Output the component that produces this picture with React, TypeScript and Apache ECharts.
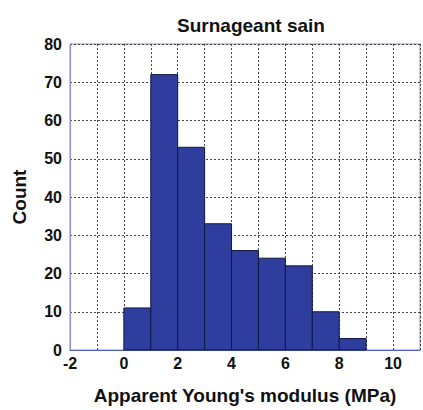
import React, { useEffect, useRef } from "react";
import * as echarts from "echarts";

const binStarts = [0, 1, 2, 3, 4, 5, 6, 7, 8];
const binWidth = 1;
const counts = [11, 72, 53, 33, 26, 24, 22, 10, 3];
const yTicks = [0, 10, 20, 30, 40, 50, 60, 70, 80];
const xLabels = [-2, 0, 2, 4, 6, 8, 10];

export default function App() {
  const ref = useRef<HTMLDivElement>(null);
  useEffect(() => {
    const chart = echarts.init(ref.current!, null, { renderer: "svg" });
    const font = "'Liberation Sans', Arial, sans-serif";
    chart.setOption({
      animation: false,
      backgroundColor: "#ffffff",
      title: {
        text: "Surnageant sain",
        left: 246,
        top: 11,
        textAlign: "center",
        textStyle: { fontFamily: font, fontWeight: "bold", fontSize: 19, color: "#111" },
      },
      grid: {
        left: 70,
        right: 2,
        top: 44,
        bottom: 59,
        show: true,
        borderColor: "#8c8cd0",
        borderWidth: 1,
        backgroundColor: "#fff",
      },
      xAxis: {
        type: "value",
        min: -2,
        max: 11,
        interval: 1,
        name: "Apparent Young's modulus (MPa)",
        nameLocation: "middle",
        nameGap: 36,
        nameTextStyle: { fontFamily: font, fontWeight: "bold", fontSize: 19, color: "#111" },
        axisLine: { show: true, onZero: false, lineStyle: { color: "#5060c0", width: 1 } },
        axisTick: { show: false },
        axisLabel: {
          fontFamily: font,
          fontWeight: "bold",
          fontSize: 16,
          color: "#111",
          margin: 5,
          formatter: (v: number) => (xLabels.indexOf(v) >= 0 ? String(v) : ""),
        },
        splitLine: { show: true, lineStyle: { color: "#444", type: [2, 2], width: 1 } },
      },
      yAxis: {
        type: "value",
        min: 0,
        max: 80,
        interval: 10,
        name: "Count",
        nameLocation: "middle",
        nameGap: 41,
        nameTextStyle: { fontFamily: font, fontWeight: "bold", fontSize: 19, color: "#111" },
        axisLine: { show: true, onZero: false, lineStyle: { color: "#8c8cd0" } },
        axisTick: { show: false },
        axisLabel: {
          fontFamily: font,
          fontWeight: "bold",
          fontSize: 16,
          color: "#111",
          margin: 8,
          formatter: (v: number) => (yTicks.indexOf(v) >= 0 ? String(v) : ""),
        },
        splitLine: { show: true, lineStyle: { color: "#444", type: [2, 2], width: 1 } },
      },
      series: [
        {
          type: "custom",
          data: binStarts.map((s, i) => [s, s + binWidth, counts[i]]),
          encode: { x: [0, 1], y: 2 },
          renderItem: (params: any, api: any) => {
            const x0 = api.value(0);
            const x1 = api.value(1);
            const y = api.value(2);
            const p0 = api.coord([x0, y]);
            const p1 = api.coord([x1, 0]);
            return {
              type: "rect",
              shape: { x: p0[0], y: p0[1], width: p1[0] - p0[0], height: p1[1] - p0[1] },
              style: { fill: "#2e3d9e", stroke: "#101a40", lineWidth: 1 },
            };
          },
        },
      ],
    });
    return () => chart.dispose();
  }, []);
  return <div ref={ref} style={{ width: 423, height: 410, position: "absolute", left: 0, top: 0 }} />;
}
